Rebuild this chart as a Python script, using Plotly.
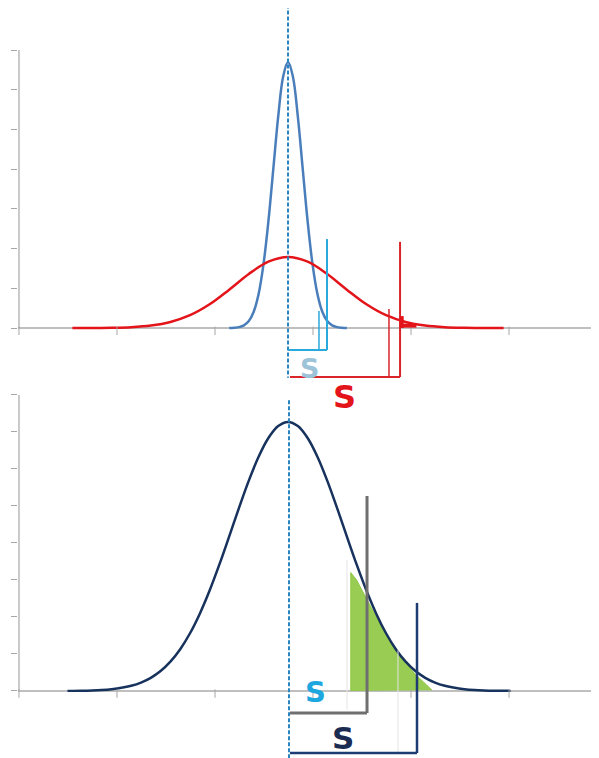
import plotly.graph_objects as go

# x in units of one x tick step, 0 = common mean (dashed line)
x_ticks = [-2.745, -1.745, -0.745, 0.255, 1.255, 2.255]
y_ticks_top = [0, 1, 2, 3, 4, 5, 6, 7]
y_ticks_bot = [0, 1, 2, 3, 4, 5, 6, 7, 8]

# top panel: narrow (blue) and wide (red) distributions
blue_x = [-0.6, -0.55, -0.5, -0.45, -0.4, -0.35, -0.3, -0.25, -0.2, -0.15, -0.1, -0.05, 0,
          0.05, 0.1, 0.15, 0.2, 0.25, 0.3, 0.35, 0.4, 0.45, 0.5, 0.55, 0.6]
blue_y = [0, 0.007, 0.022, 0.066, 0.174, 0.409, 0.858, 1.61, 2.69, 4.01, 5.33, 6.33, 6.70,
          6.33, 5.33, 4.01, 2.69, 1.61, 0.858, 0.409, 0.174, 0.066, 0.022, 0.007, 0]
red_x = [-2.2, -2.0, -1.8, -1.6, -1.4, -1.2, -1.0, -0.8, -0.6, -0.4, -0.2, 0,
         0.2, 0.4, 0.6, 0.8, 1.0, 1.2, 1.4, 1.6, 1.8, 2.0, 2.2]
red_y = [0, 0.002, 0.007, 0.022, 0.062, 0.152, 0.322, 0.597, 0.966, 1.361, 1.671, 1.79,
         1.671, 1.361, 0.966, 0.597, 0.322, 0.152, 0.062, 0.022, 0.007, 0.002, 0]

# bottom panel: one distribution with shaded tail
navy_x = [-2.25, -2.1, -2.0, -1.9, -1.8, -1.7, -1.6, -1.5, -1.4, -1.3, -1.2, -1.1, -1.0,
          -0.9, -0.8, -0.7, -0.6, -0.5, -0.4, -0.3, -0.2, -0.1, 0,
          0.1, 0.2, 0.3, 0.4, 0.5, 0.6, 0.7, 0.8, 0.9, 1.0, 1.1, 1.2, 1.3,
          1.4, 1.5, 1.6, 1.7, 1.8, 1.9, 2.0, 2.1, 2.27]
navy_y = [0.003, 0.008, 0.015, 0.028, 0.05, 0.085, 0.141, 0.228, 0.356, 0.539, 0.793, 1.129, 1.56,
          2.09, 2.715, 3.42, 4.178, 4.949, 5.684, 6.33, 6.836, 7.159, 7.27,
          7.159, 6.836, 6.33, 5.684, 4.949, 4.178, 3.42, 2.715, 2.09, 1.56, 1.129, 0.793, 0.539,
          0.356, 0.228, 0.141, 0.085, 0.05, 0.028, 0.015, 0.008, 0.003]
green_x = [0.64, 0.64, 0.7, 0.8, 0.9, 1.0, 1.1, 1.2, 1.3, 1.4, 1.47]
green_y = [0, 3.2, 3.0, 2.5, 2.0, 1.5, 1.1, 0.75, 0.45, 0.2, 0.02]

GRAY = '#a6a6a6'

fig = go.Figure()

fig.add_trace(go.Scatter(x=blue_x, y=blue_y, mode='lines', line=dict(color='#4a7ebb', width=2.5, shape='spline'),
                         xaxis='x', yaxis='y', hoverinfo='skip'))
fig.add_trace(go.Scatter(x=red_x, y=red_y, mode='lines', line=dict(color='#e3151a', width=2.5, shape='spline'),
                         xaxis='x', yaxis='y', hoverinfo='skip'))
fig.add_trace(go.Scatter(x=x_ticks, y=[-0.07] * len(x_ticks), mode='markers',
                         marker=dict(symbol='line-ns', size=6, line=dict(color=GRAY, width=1)),
                         xaxis='x', yaxis='y', hoverinfo='skip'))

fig.add_trace(go.Scatter(x=green_x, y=green_y, mode='lines', fill='toself', fillcolor='rgba(141,198,63,0.9)',
                         line=dict(color='rgba(141,198,63,0.9)', width=1), xaxis='x2', yaxis='y2', hoverinfo='skip'))
fig.add_trace(go.Scatter(x=navy_x, y=navy_y, mode='lines', line=dict(color='#17325c', width=2.5, shape='spline'),
                         xaxis='x2', yaxis='y2', hoverinfo='skip'))
fig.add_trace(go.Scatter(x=x_ticks, y=[-0.07] * len(x_ticks), mode='markers',
                         marker=dict(symbol='line-ns', size=6, line=dict(color=GRAY, width=1)),
                         xaxis='x2', yaxis='y2', hoverinfo='skip'))

def seg(x0, y0, x1, y1, color, width, ax='', dash=None):
    return dict(type='line', xref='x' + ax, yref='y' + ax, x0=x0, y0=y0, x1=x1, y1=y1,
                line=dict(color=color, width=width, dash=dash))

shapes = [
    # axis lines
    seg(-2.745, 0, -2.745, 7, GRAY, 1.2),
    seg(-2.745, 0, -2.745, 8, GRAY, 1.2, '2'),
    # mean lines
    seg(0, 8.3, 0, -1.25, '#2a84bf', 2, dash='4px,2px'),
    seg(0.01, 7.86, 0.01, -1.85, '#2a84bf', 2, '2', dash='4px,2px'),
    # top brackets
    seg(0, -0.554, 0.398, -0.554, '#2aa9dc', 2),
    seg(0.398, -0.554, 0.398, 2.24, '#2aa9dc', 2),
    seg(0.316, -0.554, 0.316, 0.43, '#2aa9dc', 1.5),
    seg(0.02, -1.234, 1.143, -1.234, '#d9252a', 2),
    seg(1.143, -1.234, 1.143, 2.17, '#d9252a', 2),
    seg(1.03, -1.234, 1.03, 0.48, '#d9252a', 1.5),
    seg(1.15, 0.06, 1.31, 0.06, '#e3151a', 4),
    seg(1.16, 0.0, 1.16, 0.3, '#e3151a', 4),
    # bottom helpers and brackets
    seg(0.602, 3.54, 0.602, -0.5, '#e4e4e4', 1, '2'),
    seg(1.122, 1.1, 1.122, -1.7, '#e4e4e4', 1, '2'),
    seg(0.02, -0.595, 0.806, -0.595, '#6f6f6f', 3, '2'),
    seg(0.806, -0.595, 0.806, 5.27, '#6f6f6f', 3, '2'),
    seg(0.02, -1.676, 1.316, -1.676, '#1f3b73', 2.5, '2'),
    seg(1.316, -1.676, 1.316, 2.38, '#1f3b73', 2.5, '2'),
]

annotations = [
    dict(x=0.224, y=-1.01, xref='x', yref='y', text='<b>S</b>', showarrow=False,
         font=dict(family='DejaVu Sans', size=27, color='#9dc3d9')),
    dict(x=0.58, y=-1.74, xref='x', yref='y', text='<b>S</b>', showarrow=False,
         font=dict(family='DejaVu Sans', size=32, color='#e3151a')),
    dict(x=0.276, y=-0.03, xref='x2', yref='y2', text='<b>S</b>', showarrow=False,
         font=dict(family='DejaVu Sans', size=29, color='#1ea6df')),
    dict(x=0.56, y=-1.27, xref='x2', yref='y2', text='<b>S</b>', showarrow=False,
         font=dict(family='DejaVu Sans', size=31, color='#1b2b52')),
]

xcommon = dict(range=[-2.755, 3.173], showgrid=False, zeroline=False, showticklabels=False, ticks='')
ycommon = dict(showgrid=False, showticklabels=False, ticks='outside', ticklen=6, tickcolor=GRAY, tickwidth=1,
               zeroline=True, zerolinecolor='#bfbfbf', zerolinewidth=1.5, showline=False)

# the page body adds an 8px offset, so the figure is 8px smaller on each side
fig.update_layout(
    width=591, height=750,
    margin=dict(l=10, r=0, t=0, b=0),
    paper_bgcolor='white', plot_bgcolor='rgba(0,0,0,0)',
    showlegend=False,
    xaxis=dict(domain=[0, 1], anchor='y', **xcommon),
    yaxis=dict(domain=[0.464, 1], anchor='x', range=[-2.065, 8.06], tickvals=y_ticks_top, **ycommon),
    xaxis2=dict(domain=[0, 1], anchor='y2', **xcommon),
    yaxis2=dict(domain=[0, 0.4907], anchor='x2', range=[-1.811, 8.135], tickvals=y_ticks_bot, **ycommon),
    shapes=shapes,
    annotations=annotations,
)

fig.write_html("out.html")
